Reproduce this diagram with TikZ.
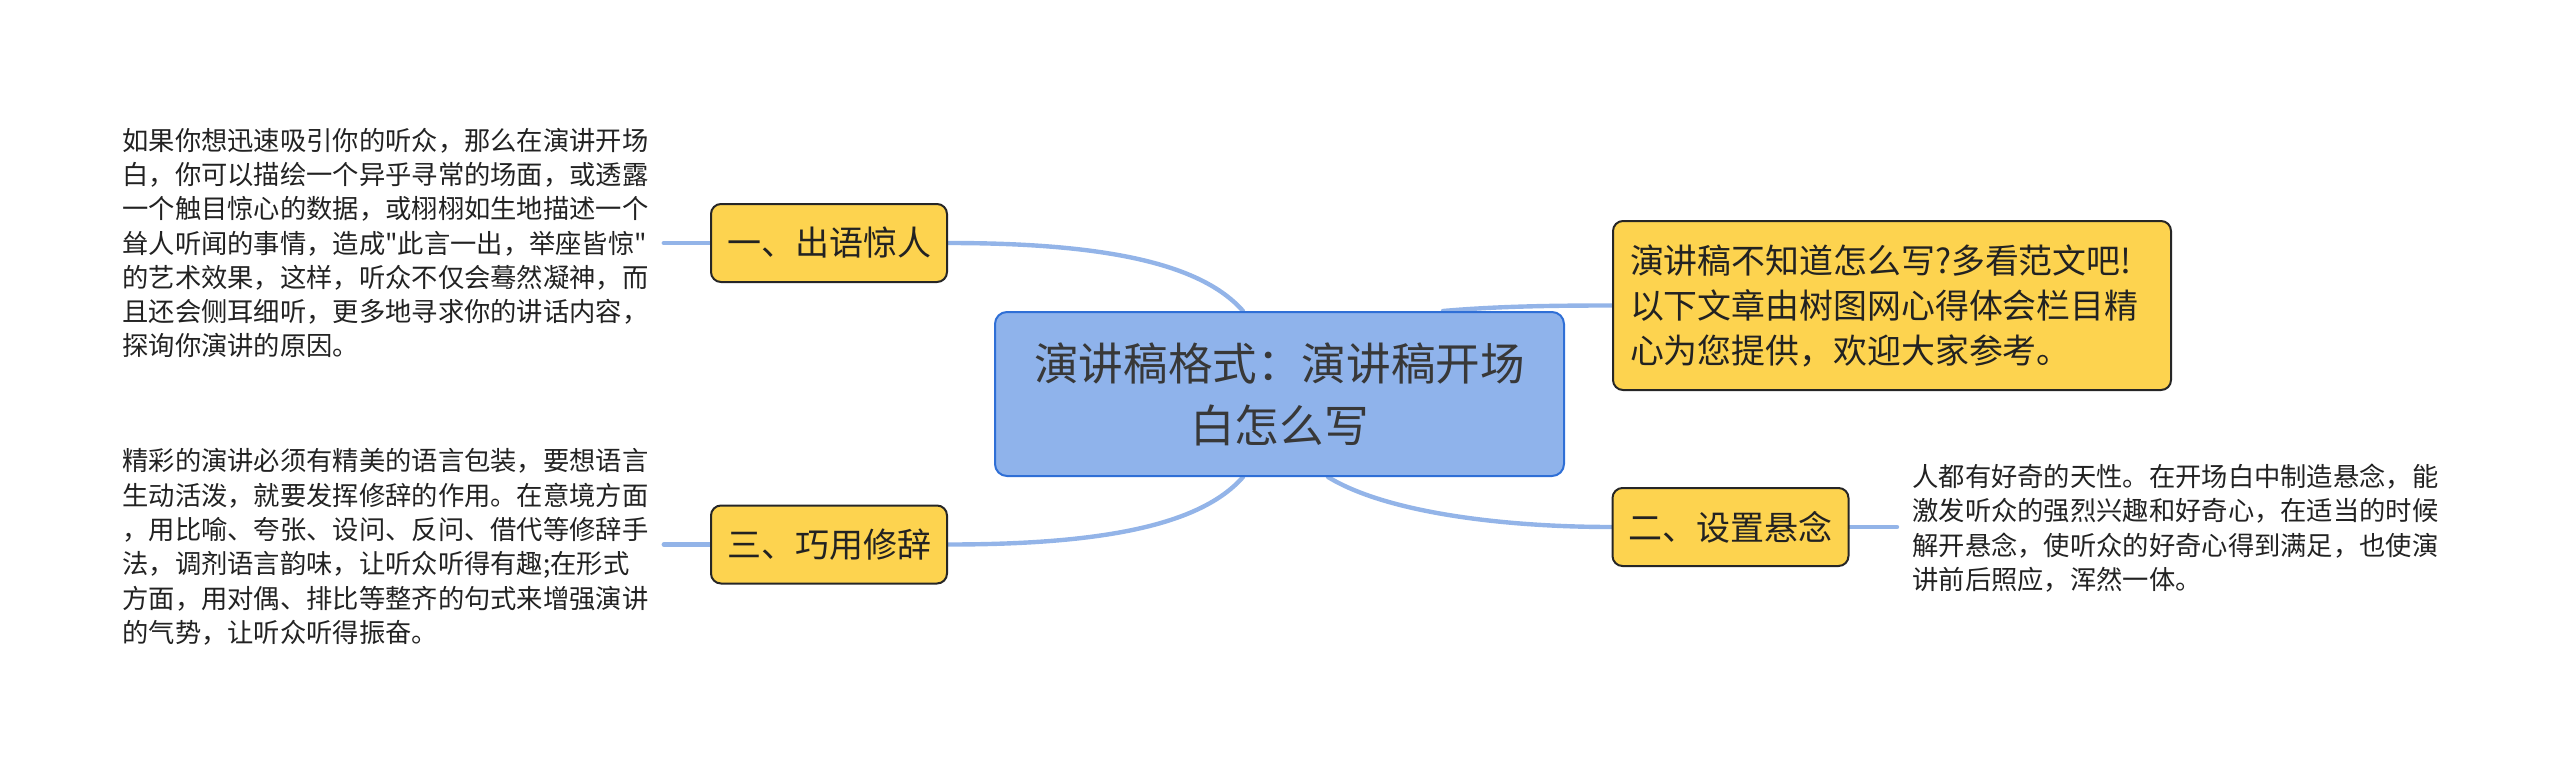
\documentclass[tikz,border=0pt]{standalone}
\usepackage{fontspec}
\setmainfont{Noto Sans CJK SC}[Ligatures=TeXOff]
\usetikzlibrary{backgrounds}
\definecolor{yfill}{HTML}{FDD34F}
\definecolor{ydraw}{HTML}{262626}
\definecolor{cfill}{HTML}{8FB3EB}
\definecolor{cdraw}{HTML}{2F6FD6}
\definecolor{link}{HTML}{93B4E8}
\definecolor{ink}{HTML}{222222}
\begin{document}
\begin{tikzpicture}[x=0.5pt,y=-0.5pt,
  topicbox/.style={draw=ydraw,fill=yfill,line width=1pt,rounded corners=5pt,
    minimum width=118pt,minimum height=39pt,inner sep=0pt,text=ink,
    font=\fontsize{17pt}{22.5pt}\selectfont},
  centralbox/.style={draw=cdraw,fill=cfill,line width=1pt,rounded corners=6pt,
    minimum width=284.5pt,minimum height=82pt,inner sep=0pt,align=center,
    text=ink!90!white,font=\fontsize{22.3pt}{31pt}\selectfont},
  notebox/.style={draw=ydraw,fill=yfill,line width=1pt,rounded corners=5pt,
    minimum width=279pt,minimum height=84.5pt,inner ysep=0pt,inner xsep=0pt,
    text width=262pt,align=left,text=ink,
    font=\fontsize{16.95pt}{22.5pt}\selectfont},
  plaintext/.style={inner xsep=7.5pt,inner ysep=0pt,align=left,text=ink,
    font=\fontsize{13.15pt}{17.15pt}\selectfont},
  linkline/.style={draw=link,line width=2.2pt,line cap=round}
]
\useasboundingbox (0,0) rectangle (2560,771);

\node[centralbox] (c) at (1279.5,394) {演讲稿格式：演讲稿开场\\白怎么写};
\node[topicbox] (b1) at (829,243) {一、出语惊人};
\node[topicbox] (b3) at (829,544.5) {三、巧用修辞};
\node[topicbox] (b2) at (1730.5,527) {二、设置悬念};
\node[notebox] (n) at (1892,305.5) {演讲稿不知道怎么写?多看范文吧!\\以下文章由树图网心得体会栏目精\\心为您提供，欢迎大家参考。};

\node[plaintext,anchor=west] (t1) at (107,243) {如果你想迅速吸引你的听众，那么在演讲开场\\白，你可以描绘一个异乎寻常的场面，或透露\\一个触目惊心的数据，或栩栩如生地描述一个\\耸人听闻的事情，造成"此言一出，举座皆惊"\\的艺术效果，这样，听众不仅会蓦然凝神，而\\且还会侧耳细听，更多地寻求你的讲话内容，\\探询你演讲的原因。};
\node[plaintext,anchor=west] (t3) at (107,547) {精彩的演讲必须有精美的语言包装，要想语言\\生动活泼，就要发挥修辞的作用。在意境方面\\，用比喻、夸张、设问、反问、借代等修辞手\\法，调剂语言韵味，让听众听得有趣;在形式\\方面，用对偶、排比等整齐的句式来增强演讲\\的气势，让听众听得振奋。};
\node[plaintext,anchor=west] (t2) at (1897,528) {人都有好奇的天性。在开场白中制造悬念，能\\激发听众的强烈兴趣和好奇心，在适当的时候\\解开悬念，使听众的好奇心得到满足，也使演\\讲前后照应，浑然一体。};

\begin{scope}[on background layer]
\draw[linkline] (b1.east) .. controls (1100,243) and (1200,262) .. ([xshift=-18.25pt]c.north);
\draw[linkline] ([xshift=-18.25pt]c.south) .. controls (1200,526) and (1100,544.5) .. (b3.east);
\draw[linkline] ([xshift=24.25pt]c.south) .. controls (1385,512) and (1500,527) .. (b2.west);
\draw[linkline] ([xshift=81.75pt]c.north) .. controls (1500,306) and (1560,305.5) .. (n.west);
\draw[linkline] (b1.west) -- (t1.east |- b1.west);
\draw[linkline] (b3.west) -- (t3.east |- b3.west);
\draw[linkline] (b2.east) -- (t2.west |- b2.east);
\end{scope}
\end{tikzpicture}
\end{document}
